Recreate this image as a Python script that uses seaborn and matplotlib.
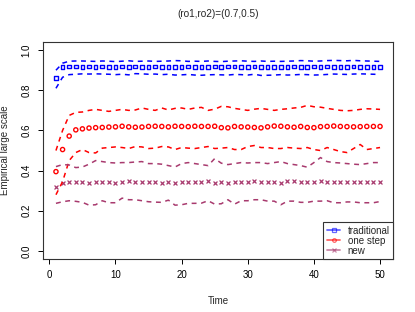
import numpy as np
import pandas as pd
import matplotlib
matplotlib.use("Agg")
import matplotlib.pyplot as plt
from matplotlib.lines import Line2D
import seaborn as sns

# time steps
time = list(range(1, 51))

# traditional estimator: mean and band
trad_mean = [0.862, 0.916, 0.918, 0.918, 0.917, 0.918, 0.917, 0.918, 0.917, 0.916,
             0.918, 0.917, 0.918, 0.917, 0.916, 0.918, 0.917, 0.916, 0.917, 0.915,
             0.918, 0.917, 0.916, 0.917, 0.918, 0.917, 0.919, 0.918, 0.917, 0.916,
             0.918, 0.917, 0.916, 0.917, 0.916, 0.917, 0.918, 0.916, 0.917, 0.918,
             0.917, 0.918, 0.917, 0.916, 0.917, 0.918, 0.917, 0.916, 0.917, 0.916]
trad_upper = [0.900, 0.935, 0.945, 0.946, 0.946, 0.945, 0.944, 0.946, 0.945, 0.943,
              0.945, 0.947, 0.944, 0.945, 0.946, 0.944, 0.945, 0.946, 0.948, 0.947,
              0.944, 0.945, 0.944, 0.946, 0.944, 0.943, 0.945, 0.946, 0.947, 0.945,
              0.944, 0.946, 0.944, 0.945, 0.944, 0.945, 0.946, 0.948, 0.947, 0.945,
              0.946, 0.948, 0.949, 0.948, 0.947, 0.949, 0.947, 0.946, 0.945, 0.944]
trad_lower = [0.810, 0.865, 0.878, 0.880, 0.882, 0.881, 0.882, 0.881, 0.880, 0.878,
              0.880, 0.877, 0.883, 0.882, 0.880, 0.881, 0.878, 0.880, 0.876, 0.877,
              0.879, 0.876, 0.875, 0.877, 0.878, 0.877, 0.876, 0.879, 0.878, 0.876,
              0.880, 0.874, 0.875, 0.876, 0.878, 0.876, 0.877, 0.879, 0.878, 0.876,
              0.877, 0.879, 0.881, 0.880, 0.879, 0.881, 0.882, 0.881, 0.880, 0.879]

# one step estimator
one_mean = [0.395, 0.505, 0.572, 0.603, 0.608, 0.612, 0.614, 0.615, 0.617, 0.618,
            0.621, 0.618, 0.616, 0.617, 0.620, 0.621, 0.620, 0.618, 0.621, 0.620,
            0.619, 0.621, 0.620, 0.620, 0.621, 0.614, 0.613, 0.620, 0.618, 0.617,
            0.615, 0.613, 0.618, 0.622, 0.621, 0.618, 0.616, 0.620, 0.615, 0.614,
            0.619, 0.620, 0.622, 0.620, 0.619, 0.618, 0.619, 0.620, 0.620, 0.620]
one_upper = [0.500, 0.600, 0.675, 0.690, 0.692, 0.700, 0.705, 0.700, 0.695, 0.700,
             0.705, 0.700, 0.702, 0.712, 0.705, 0.700, 0.712, 0.702, 0.710, 0.712,
             0.705, 0.712, 0.715, 0.700, 0.706, 0.720, 0.718, 0.710, 0.705, 0.700,
             0.706, 0.710, 0.705, 0.700, 0.705, 0.708, 0.712, 0.715, 0.725, 0.718,
             0.716, 0.710, 0.705, 0.700, 0.698, 0.700, 0.705, 0.708, 0.707, 0.705]
one_lower = [0.280, 0.345, 0.450, 0.490, 0.505, 0.490, 0.488, 0.512, 0.515, 0.518,
             0.515, 0.510, 0.520, 0.518, 0.510, 0.512, 0.520, 0.518, 0.505, 0.515,
             0.512, 0.510, 0.515, 0.520, 0.510, 0.512, 0.515, 0.505, 0.505, 0.520,
             0.525, 0.515, 0.515, 0.510, 0.510, 0.515, 0.512, 0.510, 0.515, 0.505,
             0.500, 0.515, 0.505, 0.495, 0.490, 0.510, 0.530, 0.505, 0.510, 0.515]

# new estimator
new_mean = [0.320, 0.338, 0.345, 0.345, 0.345, 0.336, 0.345, 0.345, 0.344, 0.338,
            0.345, 0.346, 0.343, 0.344, 0.343, 0.345, 0.338, 0.344, 0.338, 0.343,
            0.344, 0.343, 0.341, 0.346, 0.339, 0.343, 0.339, 0.345, 0.343, 0.345,
            0.346, 0.345, 0.344, 0.345, 0.337, 0.346, 0.346, 0.345, 0.345, 0.345,
            0.346, 0.344, 0.345, 0.343, 0.343, 0.342, 0.344, 0.344, 0.345, 0.345]
new_upper = [0.420, 0.430, 0.428, 0.415, 0.418, 0.432, 0.450, 0.445, 0.440, 0.438,
             0.440, 0.440, 0.443, 0.445, 0.435, 0.435, 0.432, 0.425, 0.418, 0.435,
             0.440, 0.435, 0.430, 0.425, 0.460, 0.437, 0.430, 0.435, 0.440, 0.438,
             0.440, 0.440, 0.435, 0.440, 0.445, 0.435, 0.430, 0.425, 0.417, 0.440,
             0.465, 0.445, 0.440, 0.438, 0.435, 0.432, 0.430, 0.435, 0.440, 0.440]
new_lower = [0.237, 0.245, 0.250, 0.247, 0.242, 0.228, 0.230, 0.250, 0.240, 0.240,
             0.263, 0.255, 0.255, 0.250, 0.245, 0.243, 0.242, 0.253, 0.228, 0.230,
             0.237, 0.237, 0.238, 0.250, 0.233, 0.235, 0.255, 0.233, 0.250, 0.250,
             0.255, 0.255, 0.248, 0.248, 0.230, 0.248, 0.248, 0.242, 0.242, 0.248,
             0.248, 0.250, 0.240, 0.240, 0.244, 0.244, 0.240, 0.240, 0.240, 0.246]

labels = ["traditional", "one step", "new"]
colors = ["#0000FF", "#FF0000", "#A83A6E"]
markers = ["s", "o", "x"]

df = pd.DataFrame({
    "time": time * 3,
    "mean": trad_mean + one_mean + new_mean,
    "upper": trad_upper + one_upper + new_upper,
    "lower": trad_lower + one_lower + new_lower,
    "method": sum([[m] * len(time) for m in labels], []),
})

sns.set_style("white")
plt.rcParams["font.family"] = ["Liberation Sans", "DejaVu Sans"]
plt.rcParams["font.size"] = 7

fig = plt.figure(figsize=(4.15, 3.12), dpi=100)
ax = fig.add_axes([0.1036, 0.170, 0.8434, 0.695])

for lab, col, mk in zip(labels, colors, markers):
    d = df[df["method"] == lab]
    for band in ["upper", "lower"]:
        sns.lineplot(data=d, x="time", y=band, ax=ax, color=col, lw=1.1)
    if mk == "x":
        sns.scatterplot(data=d, x="time", y="mean", ax=ax, color=col,
                        marker="x", s=8, linewidth=0.9)
    else:
        sns.scatterplot(data=d, x="time", y="mean", ax=ax, marker=mk,
                        s=7 if mk == "s" else 9,
                        facecolor="none", edgecolor=col, linewidth=1.0)

# R style dashes on the band lines
for ln in ax.lines:
    ln.set_linestyle((0, (3.2, 3.0)))

ax.set_xlim(-0.96, 51.96)
ax.set_ylim(-0.04, 1.04)
ax.set_xticks([0, 10, 20, 30, 40, 50])
ax.set_yticks([0.0, 0.2, 0.4, 0.6, 0.8, 1.0])
ax.set_yticklabels(["0.0", "0.2", "0.4", "0.6", "0.8", "1.0"], rotation=90, va="center")
ax.tick_params(axis="both", direction="out", length=3.3, width=0.7,
               labelsize=7, colors="black", pad=5)
ax.tick_params(left=True, bottom=True)
for sp in ax.spines.values():
    sp.set_color("#333333")
    sp.set_linewidth(0.8)

ax.set_xlabel("Time", fontsize=7)
ax.set_ylabel("Empirical large scale", fontsize=7)
ax.xaxis.set_label_coords(0.5, -0.169)
ax.yaxis.set_label_coords(-0.094, 0.5)
ax.set_title("(ro1,ro2)=(0.7,0.5)", fontsize=7.2, y=1.092, va="center")

handles = [Line2D([0], [0], color=c, marker=m, lw=1.3, alpha=0.6, markersize=2.6,
                  markerfacecolor="none", markeredgewidth=0.9)
           for c, m in zip(colors, markers)]
leg = ax.legend(handles, labels, loc="lower right", borderaxespad=0, fancybox=False,
                edgecolor="#333333", framealpha=1, fontsize=7, handlelength=1.4,
                handletextpad=0.75, labelspacing=0.0, borderpad=0.35)
leg.get_frame().set_linewidth(0.8)

fig.savefig("out.png", dpi=100)
